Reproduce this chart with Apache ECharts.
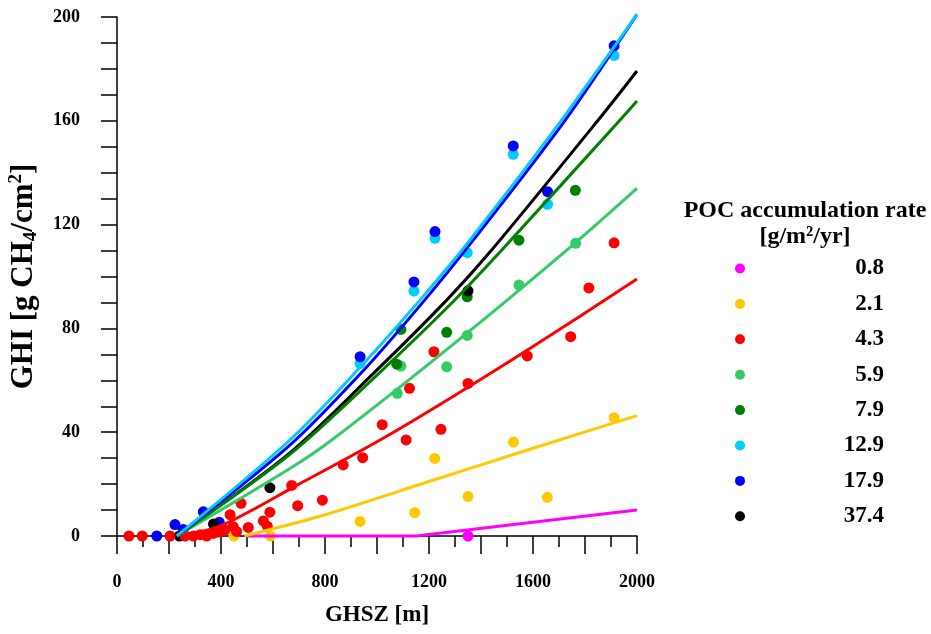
<!DOCTYPE html>
<html>
<head>
<meta charset="utf-8">
<script src="https://cdn.jsdelivr.net/npm/echarts@6/dist/echarts.min.js"></script>
<style>html,body{margin:0;padding:0;background:#fff}#c{width:931px;height:634px}</style>
</head>
<body>
<div id="c"></div>
<script>
// ---- data ----
const seriesNames = ['0.8', '2.1', '4.3', '5.9', '7.9', '12.9', '17.9', '37.4'];
const xTickLabels = [0, 400, 800, 1200, 1600, 2000];
const yTickLabels = [0, 40, 80, 120, 160, 200];

// observed points [GHSZ m, GHI g CH4/cm2]
const pts_0_8 = [[1350, 0]];
const pts_2_1 = [[450, 0], [590, 0], [935, 5.6], [1145, 9], [1222, 29.9], [1350, 15.2], [1525, 36.2], [1655, 14.9], [1912, 45.6]];
const pts_4_3 = [[46, 0], [97, 0], [204, 0], [262, 0], [294, 0], [320, 0.5], [345, 0], [370, 1], [392, 1.5], [415, 2.3], [435, 8.2], [447, 3.6], [460, 1.7], [477, 12.6], [505, 3.3], [563, 5.8], [578, 3.8], [588, 9.2], [672, 19.5], [695, 11.7], [790, 13.8], [870, 27.4], [945, 30.2], [1020, 42.9], [1112, 37], [1125, 56.9], [1219, 71], [1246, 41.1], [1350, 58.8], [1578, 69.4], [1745, 76.8], [1815, 95.6], [1912, 113]];
const pts_5_9 = [[1078, 55], [1092, 65.5], [1268, 65.2], [1347, 77.3], [1546, 96.7], [1764, 112.8]];
const pts_7_9 = [[1076, 66.2], [1092, 79.6], [1268, 78.5], [1347, 92.2], [1546, 114], [1763, 133.2]];
const pts_12_9 = [[935, 66.5], [1142, 94.4], [1223, 114.7], [1347, 109.2], [1524, 147.1], [1656, 127.8], [1912, 185.2]];
const pts_17_9 = [[153, 0], [223, 4.4], [255, 2.5], [332, 9.3], [393, 5.3], [935, 69.1], [1142, 97.9], [1223, 117.3], [1524, 150.3], [1656, 132.7], [1912, 188.9]];
const pts_37_4 = [[240, 0], [371, 4.6], [588, 18.6], [1350, 94.5]];

// fitted curves
const fit_0_8 = [[500, 0], [1150, 0], [2000, 10]];
const fit_2_1 = [[490, 0], [780, 7.6], [1200, 21], [1600, 33.8], [2000, 46.4]];
const fit_4_3 = [[230, 0], [400, 4], [700, 20], [1012, 37], [1280, 53], [1600, 73], [2000, 99]];
const fit_5_9 = [[230, 0], [665, 26], [826, 37], [1281, 72.9], [1730, 110.2], [2000, 134]];
const fit_7_9 = [[230, 0], [665, 31.5], [1000, 62], [1280, 89], [1480, 110.2], [1935, 160.3], [2000, 167.6]];
const fit_12_9 = [[230, 0], [665, 37], [935, 65], [1165, 90.9], [1358, 114.1], [1710, 160.3], [2000, 201]];
const fit_17_9 = [[230, 0], [665, 35], [950, 64], [1180, 90.5], [1370, 114], [1715, 159], [2000, 201]];
const fit_37_4 = [[230, 0], [665, 32], [1000, 64], [1268, 90.9], [1441, 110.2], [1851, 160.3], [2000, 179.2]];

// ---- styles ----
const colors = ['#FF00FF', '#FFC800', '#FF0000', '#33CC66', '#008000', '#00CCFF', '#0000FF', '#000000'];
const FONT = '"Liberation Serif", "Times New Roman", serif';

const pointSets = [pts_0_8, pts_2_1, pts_4_3, pts_5_9, pts_7_9, pts_12_9, pts_17_9, pts_37_4];
const fitSets = [fit_0_8, fit_2_1, fit_4_3, fit_5_9, fit_7_9, fit_12_9, fit_17_9, fit_37_4];

const scatterOrder = [0, 1, 3, 4, 5, 6, 7, 2];
const lineOrder = [0, 1, 2, 3, 7, 4, 6, 5];

const series = [];
scatterOrder.forEach(i => {
  series.push({
    name: seriesNames[i], type: 'scatter', data: pointSets[i],
    symbol: 'circle', symbolSize: 11, z: 2,
    itemStyle: { color: colors[i], opacity: 1 }
  });
});
lineOrder.forEach(i => {
  series.push({
    name: seriesNames[i] + ' fit', type: 'line', data: fitSets[i],
    showSymbol: false, symbol: 'none', smooth: i === 0 ? false : 0.3, clip: false, z: 3,
    lineStyle: { color: colors[i], width: 3 }
  });
});

const chart = echarts.init(document.getElementById('c'), null, { renderer: 'canvas' });
chart.setOption({
  animation: false,
  backgroundColor: '#fff',
  grid: { left: 117, right: 294, top: 17, bottom: 98, containLabel: false, outerBoundsMode: 'none' },
  xAxis: {
    type: 'value', min: 0, max: 2000, interval: 200,
    name: 'GHSZ [m]', nameLocation: 'middle', nameGap: 68,
    nameTextStyle: { fontFamily: FONT, fontWeight: 'bold', fontSize: 23, color: '#000' },
    axisLine: { show: true, onZero: false, lineStyle: { color: '#000', width: 1.5 } },
    axisTick: { show: true, length: 18, lineStyle: { color: '#000', width: 1.5 } },
    minorTick: { show: true, splitNumber: 2, length: 11, lineStyle: { color: '#000', width: 1.5 } },
    splitLine: { show: false },
    axisLabel: {
      margin: 37, fontFamily: FONT, fontWeight: 'bold', fontSize: 18, color: '#000',
      formatter: v => (xTickLabels.indexOf(v) >= 0 ? String(v) : '')
    }
  },
  yAxis: {
    type: 'value', min: 0, max: 200, interval: 10,
    name: '{a|GHI [g CH}{b|4}{a|/cm}{c|2}{a|]}', nameLocation: 'middle', nameGap: 76,
    nameTextStyle: {
      color: '#000',
      rich: {
        a: { fontFamily: FONT, fontWeight: 'bold', fontSize: 31, lineHeight: 34, color: '#000' },
        b: { fontFamily: FONT, fontWeight: 'bold', fontSize: 19, lineHeight: 19, verticalAlign: 'bottom', color: '#000' },
        c: { fontFamily: FONT, fontWeight: 'bold', fontSize: 19, lineHeight: 19, verticalAlign: 'top', color: '#000' }
      }
    },
    axisLine: { show: true, lineStyle: { color: '#000', width: 1.5 } },
    axisTick: { show: true, length: 16, lineStyle: { color: '#000', width: 1.5 } },
    splitLine: { show: false },
    axisLabel: {
      margin: 37, fontFamily: FONT, fontWeight: 'bold', fontSize: 18, color: '#000',
      formatter: v => (yTickLabels.indexOf(v) >= 0 ? String(v) : '')
    }
  },
  legend: {
    orient: 'vertical', left: 730, top: 252, itemGap: 12.4,
    itemWidth: 10, itemHeight: 10, icon: 'circle',
    data: seriesNames,
    formatter: name => '{v|' + name + '}',
    textStyle: {
      rich: {
        v: { width: 134, align: 'right', fontFamily: FONT, fontWeight: 'bold', fontSize: 23, lineHeight: 24, color: '#000' }
      }
    }
  },
  graphic: [
    { type: 'text', x: 805, y: 211, style: { text: 'POC accumulation rate', fontFamily: FONT, fontWeight: 'bold', fontSize: 24, fill: '#000', align: 'center', verticalAlign: 'middle' } },
    { type: 'text', x: 805, y: 237, style: { text: '[g/m²/yr]', fontFamily: FONT, fontWeight: 'bold', fontSize: 24, fill: '#000', align: 'center', verticalAlign: 'middle' } }
  ],
  series: series
});
</script>
</body>
</html>
